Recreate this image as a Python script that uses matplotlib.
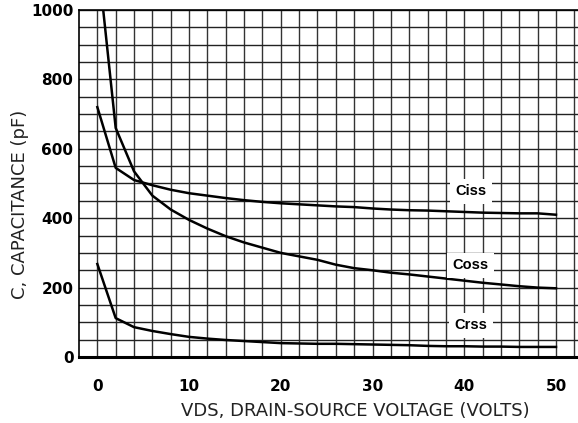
import matplotlib.pyplot as plt
import numpy as np

vds = [0, 2, 4, 6, 8, 10, 12, 14, 16, 18, 20, 22, 24, 26, 28, 30, 32, 34, 36, 38, 40, 42, 44, 46, 48, 50]
ciss = [720, 545, 510, 495, 482, 472, 465, 458, 452, 447, 443, 440, 437, 434, 432, 428, 425, 423, 422, 420, 418, 416, 415, 414, 414, 410]
coss = [1160, 660, 535, 465, 425, 395, 370, 348, 330, 315, 300, 290, 280, 266, 256, 250, 243, 238, 232, 226, 220, 214, 209, 204, 200, 198]
crss = [268, 112, 86, 75, 66, 58, 53, 49, 46, 43, 40, 39, 38, 38, 37, 36, 35, 34, 32, 31, 31, 30, 30, 29, 29, 29]

labels = ['Ciss', 'Coss', 'Crss']
label_pos = [(40.7, 478), (40.7, 265), (40.7, 92)]

fig = plt.figure(figsize=(5.78, 4.23), dpi=100)
ax = fig.add_axes([79/578, 1-357/423, 1-79/578, (357-10)/423])
ax.set_xlim(-2, 52.4)
ax.set_ylim(0, 1000)

# grid lines drawn by hand so the ones on major ticks are kept
for gx in np.arange(0, 53, 2):
    ax.axvline(gx, color='#333333', lw=1.0, zorder=1)
for gy in np.arange(50, 1001, 50):
    ax.axhline(gy, color='#222222', lw=1.0, zorder=1)
ax.tick_params(which='both', length=0)

for c in [ciss, coss, crss]:
    ax.plot(vds, c, color='black', lw=1.8, zorder=3)

for txt, (x, y) in zip(labels, label_pos):
    ax.text(x, y, txt, fontsize=10.5, fontweight='bold', family='Liberation Sans',
            ha='center', va='center', zorder=4,
            bbox=dict(facecolor='white', edgecolor='none', pad=4))

ax.set_xticks([0, 10, 20, 30, 40, 50])
ax.set_yticks([0, 200, 400, 600, 800, 1000])
ax.tick_params(axis='x', pad=16)
ax.tick_params(axis='y', pad=4)
for t in ax.get_xticklabels() + ax.get_yticklabels():
    t.set_fontweight('bold')
    t.set_fontsize(11)

ax.spines['right'].set_visible(False)
ax.spines['bottom'].set_linewidth(2.2)
ax.spines['left'].set_linewidth(1.2)
ax.spines['top'].set_linewidth(1.2)

ax.set_xlabel('VDS, DRAIN-SOURCE VOLTAGE (VOLTS)', fontsize=13, color='#222222')
ax.set_ylabel('C, CAPACITANCE (pF)', fontsize=13, color='#222222')
ax.xaxis.set_label_coords(0.553, -0.13)
ax.yaxis.set_label_coords(-0.10, 0.44)

fig.savefig('out.png', dpi=100)
